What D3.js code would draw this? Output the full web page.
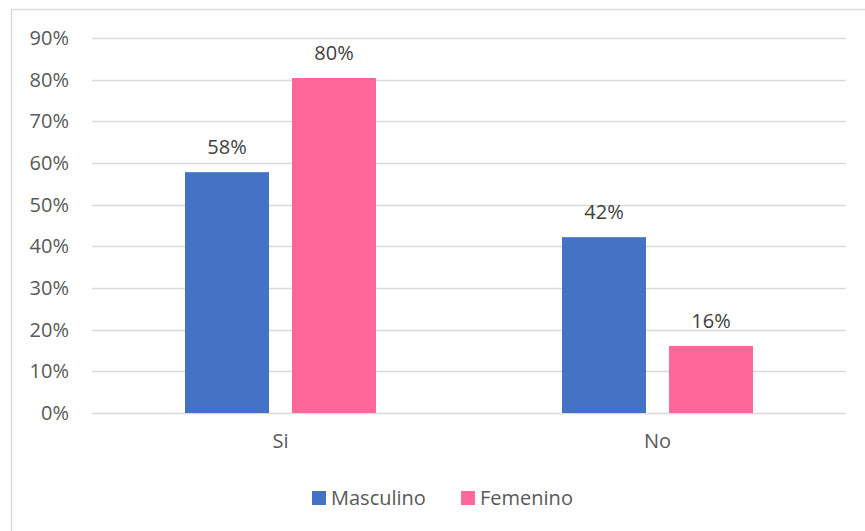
<!DOCTYPE html>
<html>
<head>
<meta charset="utf-8">
<script src="https://cdn.jsdelivr.net/npm/d3@7"></script>
<style>
  body { margin: 0; background: #fff; }
  svg { display: block; font-family: "Open Sans", sans-serif; }
</style>
</head>
<body>
<div id="chart"></div>
<script>
// data
var categories = ['Si', 'No'];
var seriesNames = ['Masculino', 'Femenino'];
var masculino = [0.578, 0.422];
var femenino = [0.804, 0.161];
var yTicks = [0, 0.1, 0.2, 0.3, 0.4, 0.5, 0.6, 0.7, 0.8, 0.9];
var colors = ['#4472c4', '#ff6699'];

var width = 865, height = 531;
var margin = { left: 92, right: 19, top: 38, bottom: 118 };

var svg = d3.select('#chart').append('svg')
  .attr('width', width)
  .attr('height', height);

// chart frame (only top and left edges are visible)
svg.append('path')
  .attr('d', 'M11.5,' + height + 'V9.5H' + width)
  .style('fill', 'none')
  .style('stroke', '#d9d9d9')
  .style('stroke-width', 1.5);

var x0 = d3.scaleBand()
  .domain(categories)
  .range([margin.left, width - margin.right]);

var x1 = d3.scaleBand()
  .domain(seriesNames)
  .range([0, 191])
  .paddingInner(0.215);

var y = d3.scaleLinear()
  .domain([0, 0.9])
  .range([height - margin.bottom, margin.top]);

var pct = d3.format('.0%');

// gridlines
svg.append('g')
  .selectAll('line')
  .data(yTicks)
  .enter().append('line')
  .attr('x1', margin.left)
  .attr('x2', width - margin.right)
  .attr('y1', function(d) { return Math.round(y(d)) + 0.5; })
  .attr('y2', function(d) { return Math.round(y(d)) + 0.5; })
  .style('stroke', '#d9d9d9')
  .style('stroke-width', 1.5);

// y axis labels
var yAxis = d3.axisLeft(y).tickValues(yTicks).tickFormat(pct).tickSize(0).tickPadding(23);
var yg = svg.append('g')
  .attr('transform', 'translate(' + margin.left + ',0)')
  .call(yAxis);
yg.select('.domain').remove();
yg.selectAll('text')
  .style('font-family', '"Open Sans", sans-serif')
  .style('font-size', '20px')
  .style('fill', '#595959');

// bars
var rows = categories.map(function(c, i) {
  return { cat: c, vals: [masculino[i], femenino[i]] };
});

var groups = svg.append('g')
  .selectAll('g')
  .data(rows)
  .enter().append('g')
  .attr('transform', function(d) {
    return 'translate(' + (x0(d.cat) + (x0.bandwidth() - 191) / 2) + ',0)';
  });

groups.selectAll('rect')
  .data(function(d) { return d.vals.map(function(v, j) { return { name: seriesNames[j], v: v, j: j }; }); })
  .enter().append('rect')
  .attr('x', function(d) { return x1(d.name); })
  .attr('width', x1.bandwidth())
  .attr('y', function(d) { return y(d.v); })
  .attr('height', function(d) { return y(0) - y(d.v); })
  .style('fill', function(d) { return colors[d.j]; });

// value labels
groups.selectAll('text')
  .data(function(d) { return d.vals.map(function(v, j) { return { name: seriesNames[j], v: v }; }); })
  .enter().append('text')
  .attr('x', function(d) { return x1(d.name) + x1.bandwidth() / 2; })
  .attr('y', function(d) { return y(d.v) - 18; })
  .attr('text-anchor', 'middle')
  .style('font-size', '20px')
  .style('fill', '#404040')
  .text(function(d) { return pct(d.v); });

// category labels
var xAxis = d3.axisBottom(x0).tickSize(0).tickPadding(21);
var xg = svg.append('g')
  .attr('transform', 'translate(0,' + y(0) + ')')
  .call(xAxis);
xg.select('.domain').remove();
xg.selectAll('text')
  .style('font-family', '"Open Sans", sans-serif')
  .style('font-size', '20px')
  .style('fill', '#595959');

// legend
var legendItems = [
  { name: seriesNames[0], x: 312, color: colors[0] },
  { name: seriesNames[1], x: 461, color: colors[1] }
];
var legend = svg.append('g');
legend.selectAll('rect')
  .data(legendItems)
  .enter().append('rect')
  .attr('x', function(d) { return d.x; })
  .attr('y', 491)
  .attr('width', 14)
  .attr('height', 14)
  .style('fill', function(d) { return d.color; });
legend.selectAll('text')
  .data(legendItems)
  .enter().append('text')
  .attr('x', function(d) { return d.x + 19; })
  .attr('y', 505)
  .style('font-size', '20px')
  .style('fill', '#595959')
  .text(function(d) { return d.name; });
</script>
</body>
</html>
